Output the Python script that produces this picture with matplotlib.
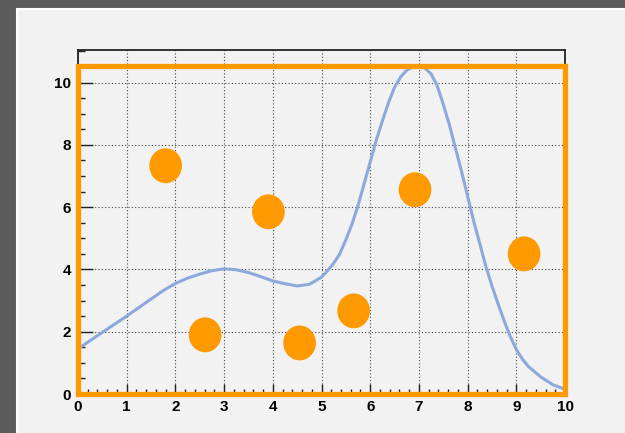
import matplotlib
matplotlib.use("Agg")
import matplotlib.pyplot as plt
from matplotlib.patches import Rectangle, Ellipse
from matplotlib.ticker import MultipleLocator

# Smooth model curve sampled along x
curve_x = [0, 0.5, 1, 1.5, 1.75, 2, 2.25, 2.5, 2.75, 3, 3.25, 3.5, 3.75, 4,
           4.25, 4.5, 4.75, 5, 5.125, 5.25, 5.375, 5.5, 5.625, 5.75, 5.875,
           6, 6.125, 6.25, 6.375, 6.5, 6.625, 6.75, 6.875, 7, 7.125, 7.25,
           7.375, 7.5, 7.625, 7.75, 7.875, 8, 8.125, 8.25, 8.375, 8.5, 8.625,
           8.75, 8.875, 9, 9.125, 9.25, 9.5, 9.75, 10]
curve_y = [1.45, 1.98, 2.50, 3.05, 3.32, 3.55, 3.72, 3.85, 3.96, 4.02, 3.99,
           3.90, 3.77, 3.63, 3.54, 3.47, 3.52, 3.75, 3.96, 4.20, 4.50, 4.95,
           5.45, 6.05, 6.75, 7.45, 8.15, 8.77, 9.35, 9.85, 10.18, 10.40, 10.50,
           10.52, 10.46, 10.28, 9.90, 9.30, 8.65, 7.90, 7.15, 6.35, 5.55, 4.83,
           4.10, 3.47, 2.90, 2.35, 1.85, 1.43, 1.12, 0.88, 0.55, 0.30, 0.15]

# Scattered markers
dot_x = [1.80, 2.61, 3.91, 4.55, 5.66, 6.92, 9.16]
dot_y = [7.33, 1.90, 5.85, 1.64, 2.67, 6.56, 4.50]

x_ticks = [0, 1, 2, 3, 4, 5, 6, 7, 8, 9, 10]
y_ticks = [0, 2, 4, 6, 8, 10]

ORANGE = "#ff9900"
BLUE = "#8ca9dc"

W, H = 625, 433
fig = plt.figure(figsize=(W / 100, H / 100), dpi=100, facecolor="#5c5c5c")

# light panel behind the plot
fig.patches.append(Rectangle((16.5 / W, -0.05), 1.2, 0.05 + 423.5 / H,
                             transform=fig.transFigure, facecolor="#f2f2f2",
                             edgecolor="white", linewidth=1.5, zorder=-10))

ax = fig.add_axes([78 / W, 39 / H, 487 / W, 344 / H])
ax.set_zorder(1)
ax.set_facecolor("#f2f2f2")
ax.set_xlim(0, 10)
ax.set_ylim(0, 1.05 * max(curve_y))

for s in ax.spines.values():
    s.set_color("#222222")
    s.set_linewidth(1.3)

ax.set_xticks(x_ticks)
ax.set_yticks(y_ticks)
ax.xaxis.set_minor_locator(MultipleLocator(0.2))
ax.yaxis.set_minor_locator(MultipleLocator(0.5))
ax.tick_params(axis="x", which="major", direction="in", length=7.2, width=1,
               color="#222222", pad=4)
ax.tick_params(axis="x", which="minor", direction="in", length=3.6, width=1,
               color="#222222")
ax.tick_params(axis="y", which="major", direction="in", length=10.5, width=1,
               color="#222222", pad=5)
ax.tick_params(axis="y", which="minor", direction="in", length=5.2, width=1,
               color="#222222")
for lab in ax.get_xticklabels() + ax.get_yticklabels():
    lab.set_fontfamily("Liberation Sans")
    lab.set_fontweight("bold")
    lab.set_fontsize(11)

ax.grid(which="major", color="#444444", linestyle=(0, (1, 2)), linewidth=0.8)
ax.set_axisbelow(True)

ax.plot(curve_x, curve_y, color=BLUE, linewidth=2.2, zorder=3,
        solid_capstyle="round", solid_joinstyle="round")

for x, y in zip(dot_x, dot_y):
    ax.add_patch(Ellipse((x, y), 0.67, 1.12, facecolor=ORANGE,
                         edgecolor="none", zorder=4))

ax.add_patch(Rectangle((0, 0), 10, max(curve_y), fill=False, edgecolor=ORANGE,
                       linewidth=3.8, joinstyle="miter", clip_on=False,
                       zorder=5))

fig.savefig("out.png", dpi=100, facecolor=fig.get_facecolor())
